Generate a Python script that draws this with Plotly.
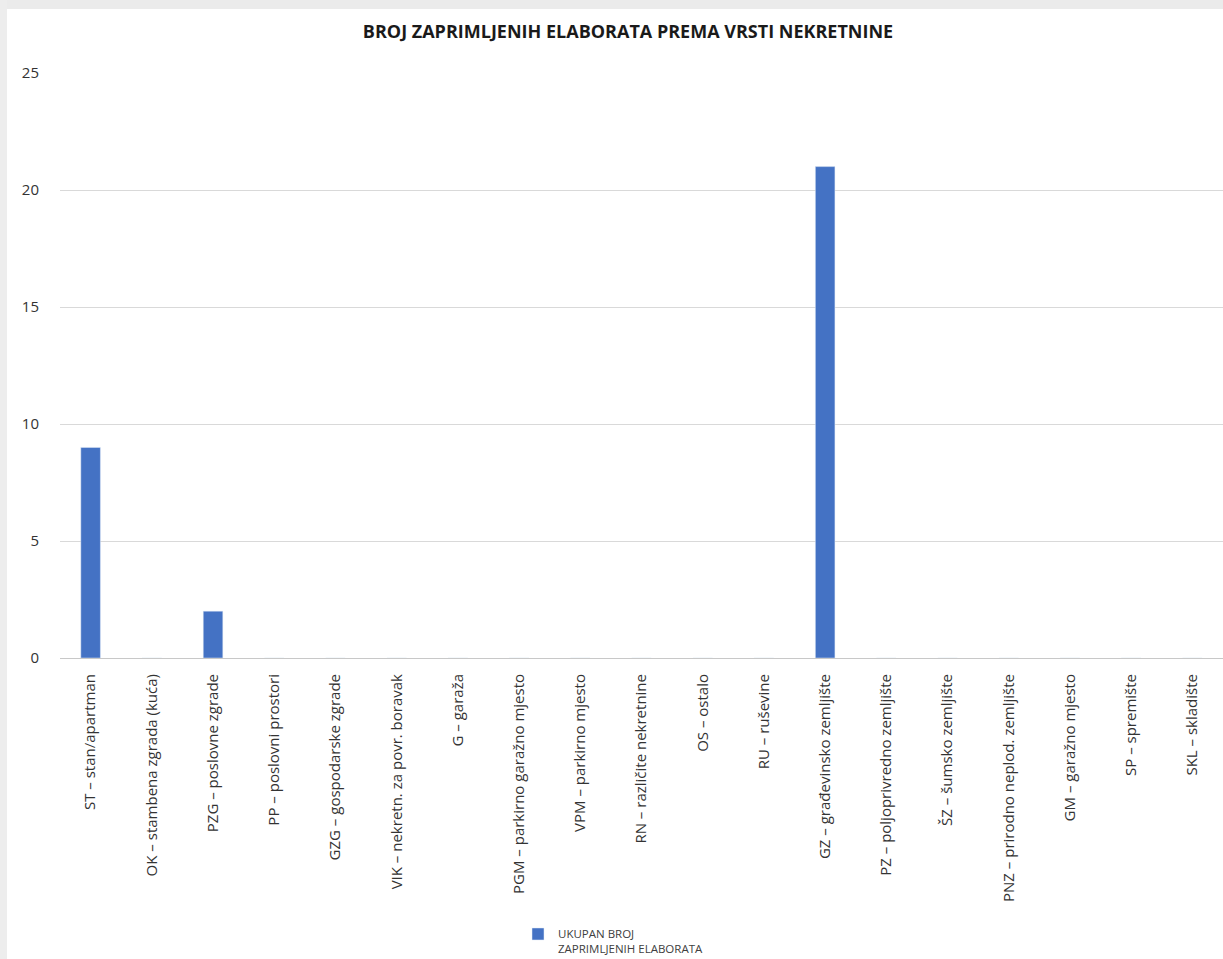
import plotly.graph_objects as go

categories = [
    "ST – stan/apartman",
    "OK – stambena zgrada (kuća)",
    "PZG – poslovne zgrade",
    "PP – poslovni prostori",
    "GZG – gospodarske zgrade",
    "VIK – nekretn. za povr. boravak",
    "G – garaža",
    "PGM – parkirno garažno mjesto",
    "VPM – parkirno mjesto",
    "RN – različite nekretnine",
    "OS – ostalo",
    "RU – ruševine",
    "GZ – građevinsko zemljište",
    "PZ – poljoprivredno zemljište",
    "ŠZ – šumsko zemljište",
    "PNZ – prirodno neplod. zemljište",
    "GM – garažno mjesto",
    "SP – spremište",
    "SKL – skladište",
]
values = [9, 0, 2, 0, 0, 0, 0, 0, 0, 0, 0, 0, 21, 0, 0, 0, 0, 0, 0]
series_name = "UKUPAN BROJ<br>ZAPRIMLJENIH ELABORATA"
title_text = "BROJ ZAPRIMLJENIH ELABORATA PREMA VRSTI NEKRETNINE"
y_ticks = [0, 5, 10, 15, 20, 25]

W, H = 1223, 959
L, R, T, B = 60, 0, 73, 301
pw, ph = W - L - R, H - T - B

def px_x(px):
    return (px - L) / pw

def px_y(py):
    return (H - B - py) / ph

FONT = "Open Sans, Liberation Sans, sans-serif"

fig = go.Figure()
fig.add_trace(go.Bar(
    x=categories, y=values, name=series_name,
    marker=dict(color="#4472C4"), width=0.32,
    showlegend=True,
))

shapes = [
    dict(type="rect", xref="paper", yref="paper",
         x0=px_x(0), x1=px_x(W), y0=px_y(0), y1=px_y(9),
         fillcolor="#ebebeb", line=dict(width=0), layer="above"),
    dict(type="rect", xref="paper", yref="paper",
         x0=px_x(0), x1=px_x(7), y0=px_y(0), y1=px_y(H),
         fillcolor="#ededed", line=dict(width=0), layer="above"),
]

fig.update_layout(
    width=W, height=H,
    margin=dict(l=L, r=R, t=T, b=B, autoexpand=False),
    paper_bgcolor="white", plot_bgcolor="white",
    font=dict(family=FONT, color="#404040"),
    title=dict(text="<b>" + title_text + "</b>", x=628 / W, xanchor="center",
               y=1 - 32 / H, yanchor="middle",
               font=dict(size=18, color="#1a1a1a", family=FONT)),
    xaxis=dict(tickangle=-90, tickfont=dict(size=15, color="#333333"),
               showgrid=False, ticks="", showline=False, fixedrange=True,
               ticklabelstandoff=12),
    yaxis=dict(range=[0, 25], tickvals=y_ticks, showgrid=True,
               gridcolor="#d9d9d9", gridwidth=1, zeroline=True,
               zerolinecolor="#c8c8c8", zerolinewidth=1.2,
               tickfont=dict(size=15, color="#333333"), ticks="",
               ticklabelstandoff=20, showline=False),
    legend=dict(x=px_x(518), y=px_y(920), xanchor="left", yanchor="top",
                orientation="h", font=dict(size=11.5, color="#404040"),
                bgcolor="rgba(0,0,0,0)", itemwidth=30, valign="top"),
    bargap=0.68,
    shapes=shapes,
)

fig.write_html("out.html", config={"displayModeBar": False},
               post_script="document.body.style.margin='0px';document.body.style.padding='0px';")
